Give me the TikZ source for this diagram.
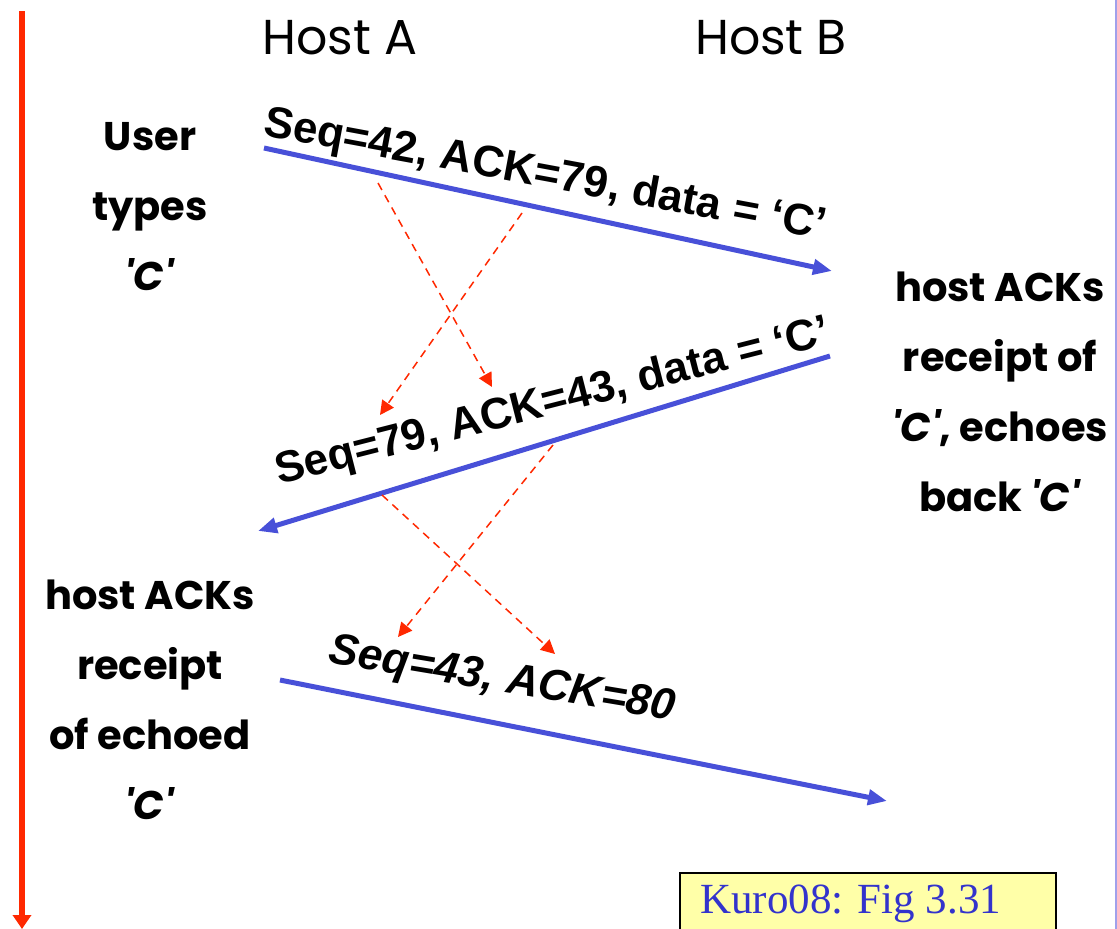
\documentclass[tikz,border=0pt]{standalone}
\usepackage{fontspec}
\setmainfont{Liberation Sans}
\newfontfamily\comicfont{Poppins}
\newfontfamily\seriffont{Liberation Serif}
\usetikzlibrary{arrows.meta}
\definecolor{msgblue}{RGB}{72,80,216}
\definecolor{timered}{RGB}{255,40,0}
\definecolor{noteyellow}{RGB}{255,255,168}
\definecolor{noteblue}{RGB}{51,51,204}
\definecolor{edgeblue}{RGB}{160,160,235}
\newcommand{\qC}{\textit{\char"27 C\char"27}}
\tikzset{
  msg/.style={draw=msgblue, line width=5pt, -{Triangle[length=19pt,width=15pt]}},
  ack/.style={draw=timered, line width=1.5pt, dash pattern=on 8pt off 6pt, -{Triangle[length=14pt,width=14pt]}},
  msglabel/.style={font=\fontsize{44}{50}\selectfont\bfseries, inner sep=0pt},
  host/.style={font=\comicfont\fontsize{49}{55}\selectfont, inner sep=0pt},
  side/.style={font=\comicfont\bfseries\fontsize{40}{70}\selectfont, align=center, inner sep=0pt},
}
\begin{document}
\begin{tikzpicture}[x=1pt,y=-1pt]
\useasboundingbox (0,0) rectangle (1117,929);
% right slide edge
\draw[edgeblue, line width=1.5pt] (1116,0) -- (1116,929);
% time axis
\coordinate (t0) at (22,11);
\coordinate (t1) at (22,929);
\draw[timered, line width=6pt, -{Triangle[length=14pt,width=18pt]}] (t0) -- (t1);
% hosts
\node[host] (hostA) at (340,38) {Host A};
\node[host] (hostB) at (771,38) {Host B};
% endpoints
\coordinate (m1s) at (264,148);
\coordinate (m1e) at (832,271);
\coordinate (m2s) at (830,356);
\coordinate (m2e) at (258,531);
\coordinate (m3s) at (280,680);
\coordinate (m3e) at (887,801);
\draw[msg] (m1s) -- (m1e);
\draw[msg] (m2s) -- (m2e);
\draw[msg] (m3s) -- (m3e);
% dashed acks
\coordinate (d1s) at (378,183);
\coordinate (d1e) at (492,387);
\coordinate (d2s) at (522,213);
\coordinate (d2e) at (380,415);
\coordinate (d3s) at (382,495);
\coordinate (d3e) at (555,654);
\coordinate (d4s) at (553,445);
\coordinate (d4e) at (398,637);
\draw[ack] (d1s) -- (d1e);
\draw[ack] (d2s) -- (d2e);
\draw[ack] (d3s) -- (d3e);
\draw[ack] (d4s) -- (d4e);
% labels
\node[msglabel, rotate=-10.5] (l1) at (545,176) {Seq=42, ACK=79, data = ‘C’};
\node[msglabel, rotate=14.3] (l2) at (553,403) {Seq=79, ACK=43, data = ‘C’};
\node[msglabel, rotate=-9.5] (l3) at (502,681) {\itshape Seq=43, ACK=80};
% side notes
\node[side] (user) at (150,207) {User\\types\\\qC};
\node[side] (echo) at (1000,392) {host ACKs\\receipt of\\\qC, echoes\\back \qC};
\node[side] (fin) at (150,700) {host ACKs\\receipt\\of echoed\\\qC};
% reference box
\node[draw=black, line width=1.5pt, fill=noteyellow, minimum width=376pt, minimum height=70pt, anchor=north west, inner sep=0pt] (ref) at (679,872) {};
\node[font=\seriffont\fontsize{43}{50}\selectfont, text=noteblue, anchor=west, inner sep=0pt] (reftext) at (700,904) {Kuro08: Fig 3.31};
\end{tikzpicture}
\end{document}
